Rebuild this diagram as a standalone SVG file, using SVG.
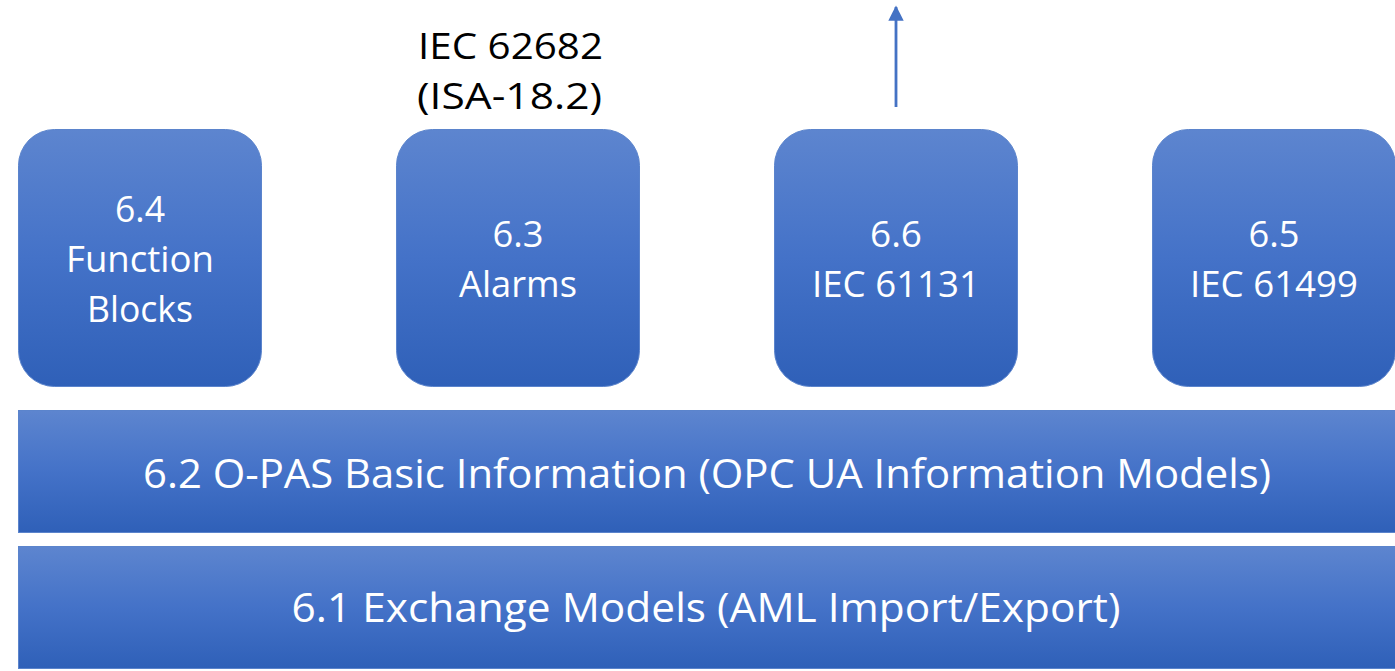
<svg xmlns="http://www.w3.org/2000/svg" width="1395" height="671" viewBox="0 0 1395 671">
<defs>
<linearGradient id="g" x1="0" y1="0" x2="0" y2="1">
<stop offset="0" stop-color="#5d85cf"/>
<stop offset="0.5" stop-color="#4472c8"/>
<stop offset="1" stop-color="#2f60b8"/>
</linearGradient>
<marker id="ah" viewBox="0 0 10 10" refX="9" refY="5" markerWidth="5.5" markerHeight="5.5" orient="auto" markerUnits="strokeWidth">
<path d="M0,0 L10,5 L0,10 z" fill="#4472c4"/>
</marker>
</defs>
<style>
.box{fill:url(#g);stroke:#5b84cc;stroke-width:1}
.w{fill:#ffffff;font-family:"Open Sans","Noto Sans","Liberation Sans",sans-serif;font-size:37px;text-anchor:middle}
.wb{font-size:41px}
.k{fill:#000000;font-family:"Open Sans","Noto Sans","Liberation Sans",sans-serif;font-size:37px}
.c{stroke:#4472c4;stroke-width:2.8;fill:none}
</style>
<rect width="1395" height="671" fill="#ffffff"/>
<g id="n64">
<rect class="box" x="18.5" y="129.5" width="243" height="257" rx="36"/>
<text class="w" x="140" y="222" textLength="50" lengthAdjust="spacingAndGlyphs">6.4</text>
<text class="w" x="140" y="272" textLength="148" lengthAdjust="spacingAndGlyphs">Function</text>
<text class="w" x="140" y="322" textLength="106" lengthAdjust="spacingAndGlyphs">Blocks</text>
</g>
<g id="n63">
<rect class="box" x="396.5" y="129.5" width="243" height="257" rx="36"/>
<text class="w" x="518" y="247" textLength="51" lengthAdjust="spacingAndGlyphs">6.3</text>
<text class="w" x="518" y="297" textLength="118" lengthAdjust="spacingAndGlyphs">Alarms</text>
</g>
<g id="label63">
<text class="k" x="418" y="59" textLength="185" lengthAdjust="spacingAndGlyphs">IEC 62682</text>
<text class="k" x="417" y="109" textLength="185" lengthAdjust="spacingAndGlyphs">(ISA-18.2)</text>
</g>
<g id="n66">
<rect class="box" x="774.5" y="129.5" width="243" height="257" rx="36"/>
<text class="w" x="896" y="247" textLength="52" lengthAdjust="spacingAndGlyphs">6.6</text>
<text class="w" x="896" y="297" textLength="168" lengthAdjust="spacingAndGlyphs">IEC 61131</text>
</g>
<g id="n65">
<rect class="box" x="1152.5" y="129.5" width="243" height="257" rx="36"/>
<text class="w" x="1274" y="247" textLength="51" lengthAdjust="spacingAndGlyphs">6.5</text>
<text class="w" x="1274" y="297" textLength="168" lengthAdjust="spacingAndGlyphs">IEC 61499</text>
</g>
<g id="n62">
<rect class="box" x="18.5" y="410.5" width="1380" height="122"/>
<text class="w wb" x="707" y="488" textLength="1128" lengthAdjust="spacingAndGlyphs">6.2 O-PAS Basic Information (OPC UA Information Models)</text>
</g>
<g id="n61">
<rect class="box" x="18.5" y="546.5" width="1380" height="122"/>
<text class="w wb" x="706" y="622" textLength="829" lengthAdjust="spacingAndGlyphs">6.1 Exchange Models (AML Import/Export)</text>
</g>
<g id="connectors">
<line class="c" x1="896" y1="107" x2="896" y2="7" marker-end="url(#ah)"/>
</g>
</svg>
